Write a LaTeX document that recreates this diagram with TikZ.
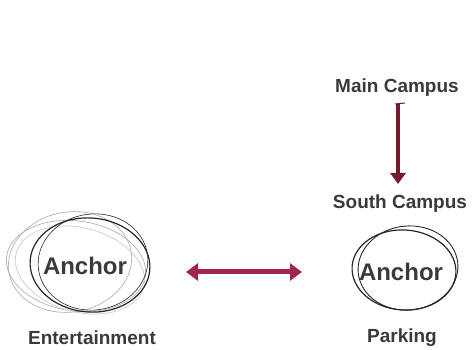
\documentclass[tikz,border=0pt]{standalone}
\usepackage{fontspec}
\setmainfont{Liberation Sans}
\usetikzlibrary{arrows.meta}
\definecolor{txt}{HTML}{3A3A3A}
\definecolor{darkred}{HTML}{741A2E}
\definecolor{crimson}{HTML}{A5234F}
\tikzset{
  lbl/.style={font=\bfseries\fontsize{19}{21}\selectfont, text=txt, inner sep=0pt},
  anch/.style={font=\bfseries\fontsize{24}{26}\selectfont, text=txt, inner sep=0pt},
  sketch/.style={line width=1.2pt, draw=black!85},
  faint/.style={line width=0.7pt, draw=black!30},
  arr/.style={line width=4pt, -{Triangle[width=15pt,length=11pt]}},
}
\begin{document}
\begin{tikzpicture}[x=1pt,y=-1pt]
\useasboundingbox (0,0) rectangle (472,350);
% labels
\node[lbl] (main) at (397,88) {Main Campus};
\node[lbl] (south) at (400,204) {South Campus};
\node[lbl] (park) at (402,338) {Parking};
\node[lbl] (ent) at (92,338) {Entertainment};
\node[anch] (a1) at (85,266) {Anchor};
\node[anch] (a2) at (401,272) {Anchor};
% left sketchy circle
\draw[faint] (76,266) ellipse [x radius=70,y radius=45,rotate=-8];
\draw[faint] (70,262) ellipse [x radius=62,y radius=50,rotate=10];
\draw[faint,draw=black!20] (80,270) ellipse [x radius=66,y radius=42,rotate=-15];
\draw[sketch] (90,265) ellipse [x radius=60,y radius=47,rotate=-5];
\draw[sketch,line width=0.6pt] (93,262) ellipse [x radius=55,y radius=48,rotate=8];
% right sketchy circle
\draw[sketch] (404,270) ellipse [x radius=52,y radius=40,rotate=-4];
\draw[sketch,line width=0.9pt] (408,268) ellipse [x radius=50,y radius=42,rotate=6];
% connectors
\coordinate (v1) at (398,104);
\coordinate (v2) at (398,184);
\draw[arr,draw=darkred,fill=darkred] (v1) -- (v2);
\draw[darkred,line width=1pt] (395,104) -- (405,103);
\coordinate (h1) at (186,272);
\coordinate (h2) at (302,272);
\draw[line width=5pt,crimson,{Triangle[width=17pt,length=12pt]}-{Triangle[width=17pt,length=12pt]}] (h1) -- (h2);
\end{tikzpicture}
\end{document}
